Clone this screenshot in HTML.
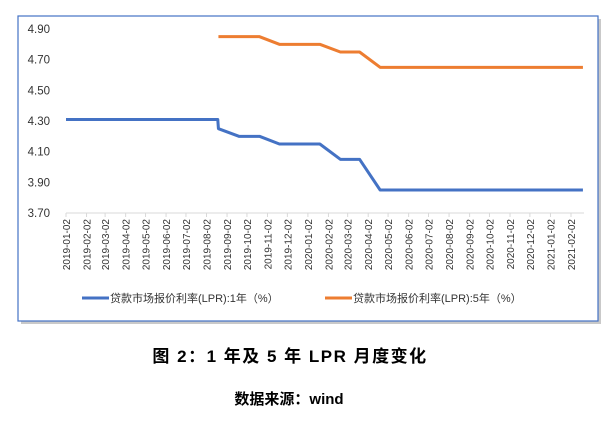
<!DOCTYPE html>
<html><head><meta charset="utf-8"><style>
body{margin:0;background:#fff;width:614px;height:417px;overflow:hidden;font-family:"Liberation Sans","Noto Sans CJK SC",sans-serif}
</style></head><body>
<svg width="614" height="417" xmlns="http://www.w3.org/2000/svg">
<rect x="21" y="19" width="580" height="305" fill="#888" opacity="0.45"/>
<rect x="18" y="16" width="580" height="305" fill="#fff" stroke="#4472c4" stroke-width="1.2"/>
<g id="yaxis"></g>
<g id="xaxis"></g>
<g id="series"></g>
<g>
<line x1="82" y1="298" x2="109" y2="298" stroke="#4472c4" stroke-width="3"/>
<text x="110" y="302" font-size="11" fill="#333">贷款市场报价利率(LPR):1年（%）</text>
<line x1="325" y1="298" x2="352" y2="298" stroke="#ed7d31" stroke-width="3"/>
<text x="353" y="302" font-size="11" fill="#333">贷款市场报价利率(LPR):5年（%）</text>
</g>
<text x="290" y="362" text-anchor="middle" font-size="17" font-weight="bold" letter-spacing="1.5" fill="#000">图 2：1 年及 5 年 LPR 月度变化</text>
<text x="289" y="404" text-anchor="middle" font-size="15" font-weight="bold" fill="#000">数据来源：wind</text>
</svg>
<script>
const yTicks=[3.70,3.90,4.10,4.30,4.50,4.70,4.90];
const xTickLabels=["2019-01-02","2019-02-02","2019-03-02","2019-04-02","2019-05-02","2019-06-02","2019-07-02","2019-08-02","2019-09-02","2019-10-02","2019-11-02","2019-12-02","2020-01-02","2020-02-02","2020-03-02","2020-04-02","2020-05-02","2020-06-02","2020-07-02","2020-08-02","2020-09-02","2020-10-02","2020-11-02","2020-12-02","2021-01-02","2021-02-02"];
const dates1y=["2019-01-02","2019-08-19","2019-08-20","2019-09-20","2019-10-21","2019-11-20","2019-12-20","2020-01-20","2020-02-20","2020-03-20","2020-04-20","2020-05-20","2020-06-22","2020-07-20","2020-08-20","2020-09-21","2020-10-20","2020-11-20","2020-12-21","2021-01-20","2021-02-20"];
const values1y=[4.31,4.31,4.25,4.20,4.20,4.15,4.15,4.15,4.05,4.05,3.85,3.85,3.85,3.85,3.85,3.85,3.85,3.85,3.85,3.85,3.85];
const dates5y=["2019-08-20","2019-09-20","2019-10-21","2019-11-20","2019-12-20","2020-01-20","2020-02-20","2020-03-20","2020-04-20","2020-05-20","2020-06-22","2020-07-20","2020-08-20","2020-09-21","2020-10-20","2020-11-20","2020-12-21","2021-01-20","2021-02-20"];
const values5y=[4.85,4.85,4.85,4.80,4.80,4.80,4.75,4.75,4.65,4.65,4.65,4.65,4.65,4.65,4.65,4.65,4.65,4.65,4.65];
const NS="http://www.w3.org/2000/svg";
const t0=Date.parse("2019-01-02"),t1=Date.parse("2021-02-02");
const X0=66,X1=571,PLOT_R=584;
function xs(d){return X0+(Date.parse(d)-t0)/(t1-t0)*(X1-X0);}
function ys(v){return 213-(v-3.70)/(4.90-3.70)*184;}
function mk(tag,attrs,parent){const e=document.createElementNS(NS,tag);for(const k in attrs)e.setAttribute(k,attrs[k]);parent.appendChild(e);return e;}
const ya=document.getElementById('yaxis');
yTicks.forEach(v=>{const t=mk('text',{x:50,y:ys(v)+4,'text-anchor':'end','font-size':11.5,fill:'#333'},ya);t.textContent=v.toFixed(2);

});
const xa=document.getElementById('xaxis');
const ax=mk('line',{x1:X0,y1:213,x2:PLOT_R,y2:213,stroke:'#d9d9d9','stroke-width':1},xa);


xTickLabels.forEach(d=>{const x=xs(d);
const tk=mk('line',{x1:x,y1:213,x2:x,y2:217,stroke:'#d9d9d9'},xa);


const t=mk('text',{x:0,y:0,'text-anchor':'end','font-size':10,fill:'#333',transform:`translate(${x+4},219) rotate(-90)`},xa);t.textContent=d;

});
const sg=document.getElementById('series');
const p1=mk('polyline',{points:dates1y.map((d,i)=>xs(d)+','+ys(values1y[i])).join(' '),fill:'none',stroke:'#4472c4','stroke-width':3,'stroke-linejoin':'round'},sg);


const p5=mk('polyline',{points:dates5y.map((d,i)=>xs(d)+','+ys(values5y[i])).join(' '),fill:'none',stroke:'#ed7d31','stroke-width':3,'stroke-linejoin':'round'},sg);


</script>
</body></html>
